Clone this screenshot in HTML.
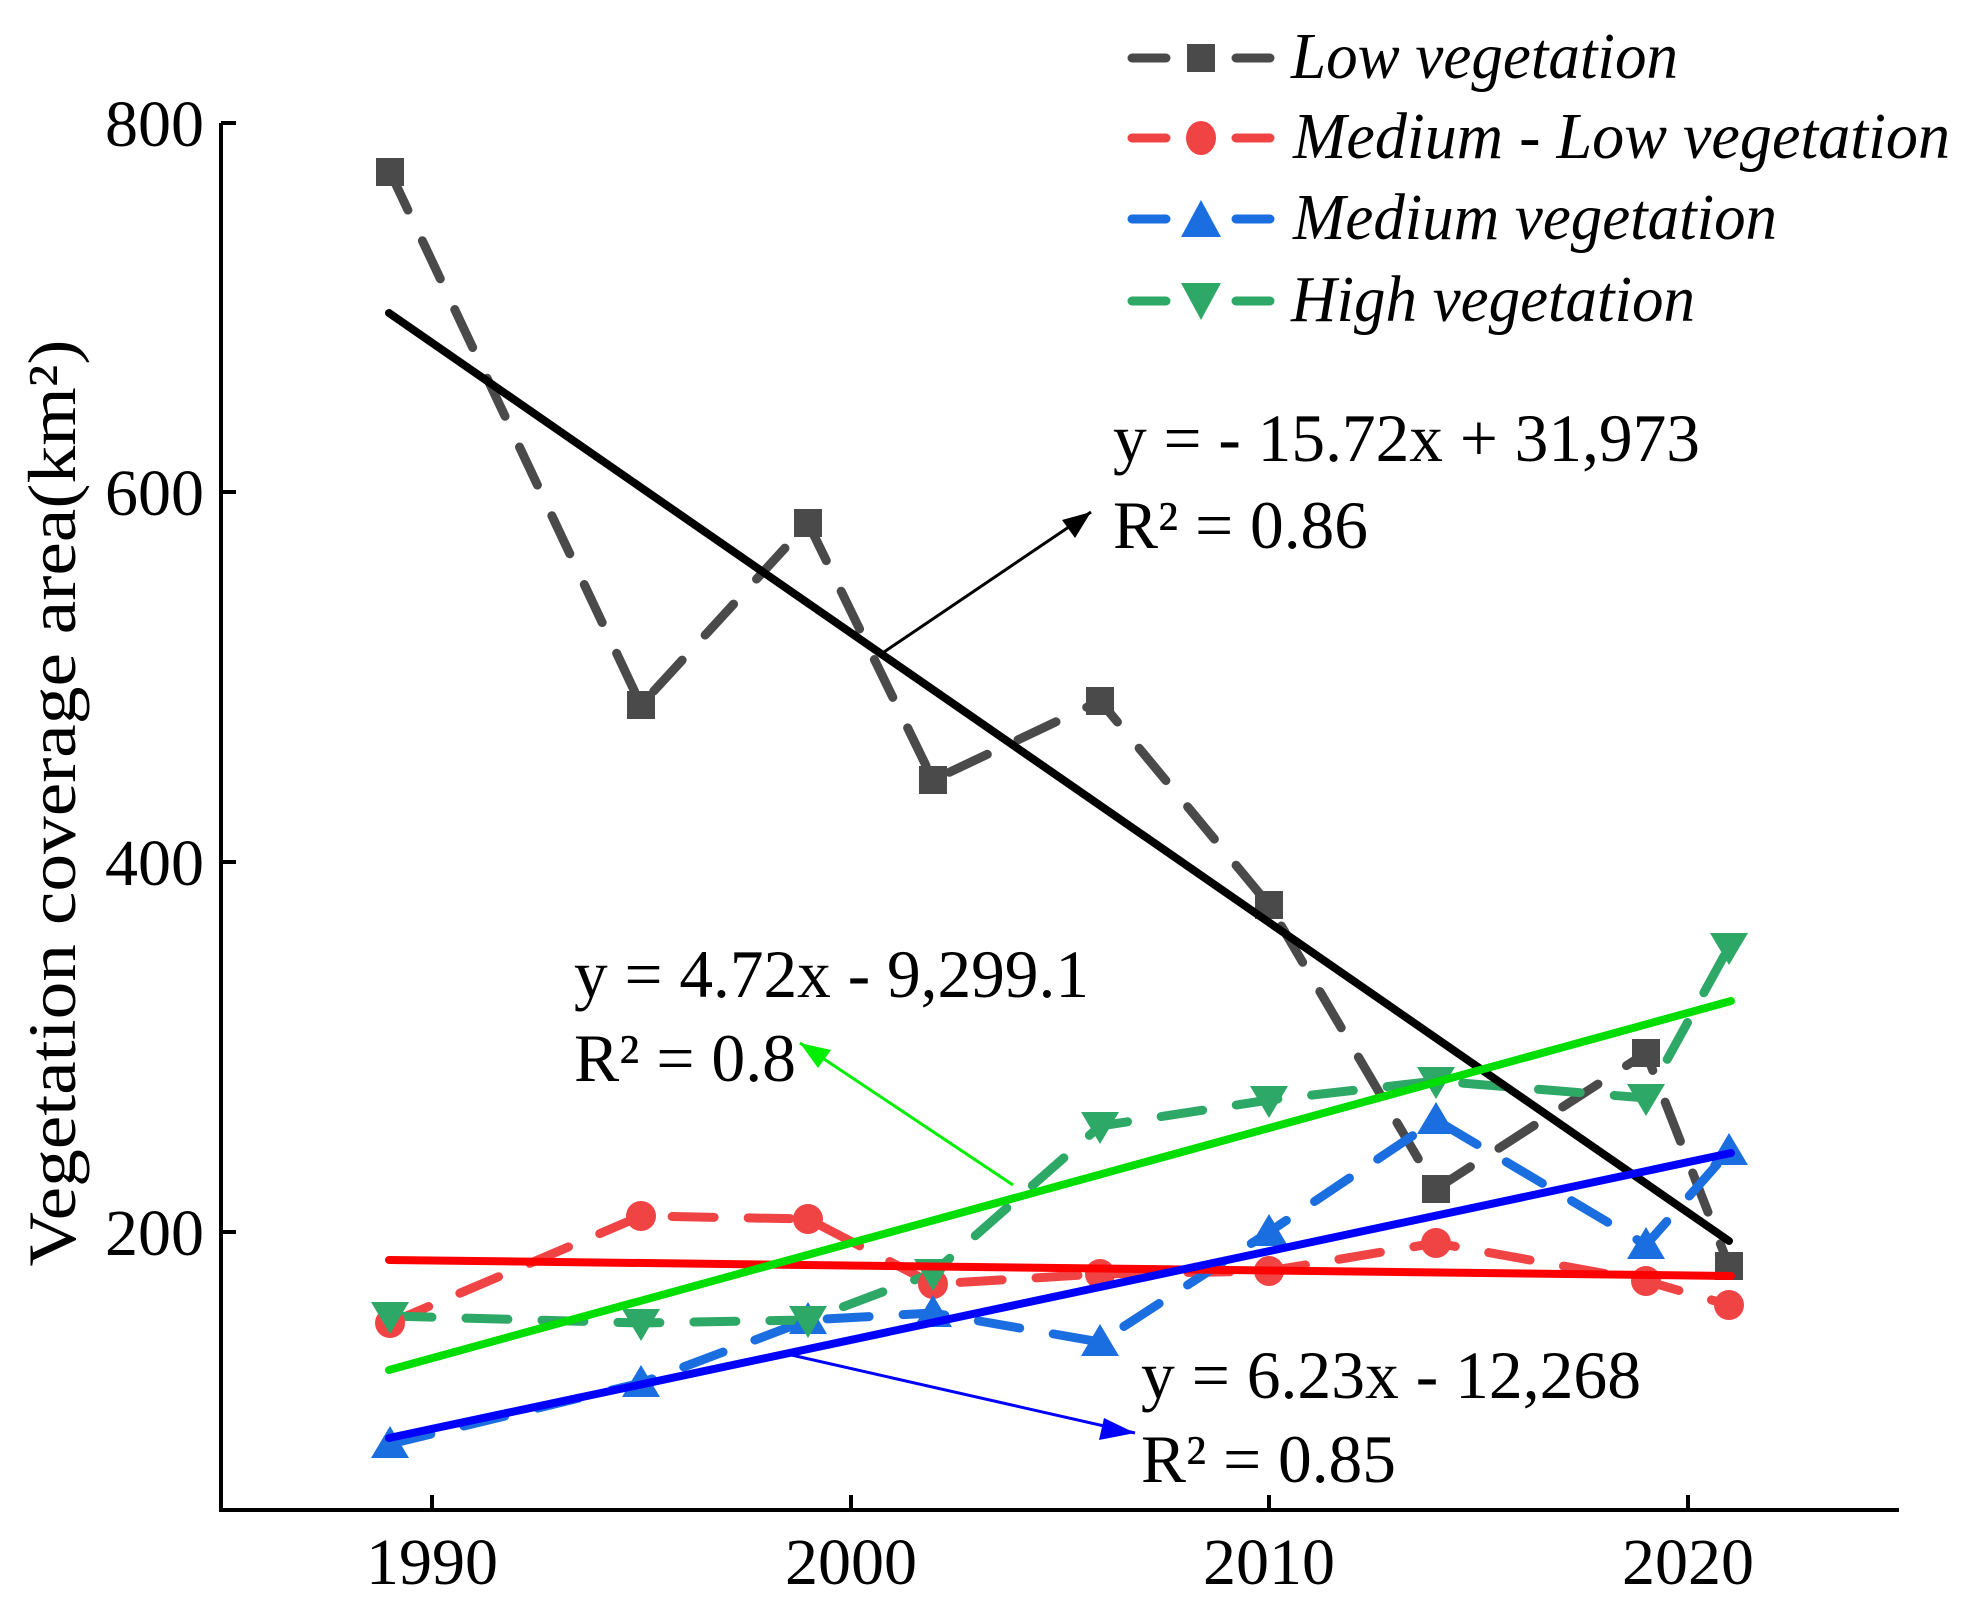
<!DOCTYPE html>
<html><head><meta charset="utf-8"><style>html,body{margin:0;padding:0;background:#fff}svg{display:block}svg text{font-family:"Liberation Serif","Times New Roman",serif}</style></head>
<body>
<svg width="1966" height="1612" viewBox="0 0 1966 1612" xmlns="http://www.w3.org/2000/svg">
<!-- axes -->
<g stroke="#000" stroke-width="4" fill="none">
<path d="M221,123 L221,1510 L1899,1510"/>
<path d="M221,123 L236,123 M221,492 L236,492 M221,862 L236,862 M221,1232 L236,1232"/>
<path d="M432,1510 L432,1495 M851,1510 L851,1495 M1269,1510 L1269,1495 M1688,1510 L1688,1495"/>
</g>
<g font-size="66" fill="#000" text-anchor="end">
<text x="204" y="146">800</text><text x="204" y="515">600</text><text x="204" y="885">400</text><text x="204" y="1255">200</text>
</g>
<g font-size="66" fill="#000" text-anchor="middle">
<text x="432" y="1584">1990</text><text x="851" y="1584">2000</text><text x="1269" y="1584">2010</text><text x="1688" y="1584">2020</text>
</g>
<text transform="translate(75,803) rotate(-90)" font-size="68" text-anchor="middle" textLength="927" lengthAdjust="spacingAndGlyphs">Vegetation coverage area(km²)</text>

<!-- dashed series -->
<g fill="none" stroke-width="9" stroke-linecap="round" stroke-dasharray="42 34">
<polyline stroke="#4a4a4a" points="390,172 641,705 808,523 933,780 1100,701 1269,905 1436,1189 1646,1053 1729,1266"/>
<polyline stroke="#f04444" points="390,1323 641,1216 808,1219 933,1284 1100,1274 1269,1271 1436,1243 1646,1281 1729,1305"/>
<polyline stroke="#1a6ee0" points="390,1444 641,1383 808,1320 933,1313 1100,1342 1269,1232 1436,1120 1646,1245 1729,1151"/>
<polyline stroke="#2ea866" points="390,1316 641,1323 808,1320 933,1273 1100,1126 1269,1100 1436,1081 1646,1098 1729,947"/>
</g>
<!-- markers -->
<g fill="#4a4a4a">
<rect x="376" y="158" width="28" height="28"/><rect x="627" y="691" width="28" height="28"/><rect x="794" y="509" width="28" height="28"/><rect x="919" y="766" width="28" height="28"/><rect x="1086" y="687" width="28" height="28"/><rect x="1255" y="891" width="28" height="28"/><rect x="1422" y="1175" width="28" height="28"/><rect x="1632" y="1039" width="28" height="28"/><rect x="1715" y="1252" width="28" height="28"/>
</g>
<g fill="#f04444">
<circle cx="390" cy="1323" r="15"/><circle cx="641" cy="1216" r="15"/><circle cx="808" cy="1219" r="15"/><circle cx="933" cy="1284" r="15"/><circle cx="1100" cy="1274" r="15"/><circle cx="1269" cy="1271" r="15"/><circle cx="1436" cy="1243" r="15"/><circle cx="1646" cy="1281" r="15"/><circle cx="1729" cy="1305" r="15"/>
</g>
<g fill="#1a6ee0">
<path d="M390,1426 l19,32 h-38z M641,1365 l19,32 h-38z M808,1302 l19,32 h-38z M933,1295 l19,32 h-38z M1100,1324 l19,32 h-38z M1269,1214 l19,32 h-38z M1436,1102 l19,32 h-38z M1646,1227 l19,32 h-38z M1729,1133 l19,32 h-38z"/>
</g>
<g fill="#2ea866">
<path d="M390,1334 l19,-32 h-38z M641,1341 l19,-32 h-38z M808,1338 l19,-32 h-38z M933,1291 l19,-32 h-38z M1100,1144 l19,-32 h-38z M1269,1118 l19,-32 h-38z M1436,1099 l19,-32 h-38z M1646,1116 l19,-32 h-38z M1729,965 l19,-32 h-38z"/>
</g>
<!-- trend lines -->
<g stroke-width="8" stroke-linecap="round">
<line x1="389" y1="313" x2="1729" y2="1241" stroke="#000"/>
<line x1="389" y1="1260" x2="1731" y2="1276" stroke="#ff0000"/>
<line x1="389" y1="1370" x2="1731" y2="1001" stroke="#00dd00"/>
<line x1="389" y1="1438" x2="1731" y2="1153" stroke="#0000ff"/>
</g>
<!-- annotation arrows -->
<line x1="884" y1="652" x2="1091" y2="512" stroke="#000" stroke-width="3"/>
<path d="M1091,512 L1062,520 L1075,538 z" fill="#000"/>
<line x1="1013" y1="1185" x2="800" y2="1043" stroke="#00ee00" stroke-width="3"/>
<path d="M800,1043 L818,1068 L831,1050 z" fill="#00ee00"/>
<line x1="787" y1="1354" x2="1135" y2="1433" stroke="#0000ff" stroke-width="3"/>
<path d="M1135,1433 L1104,1418 L1099,1440 z" fill="#0000ff"/>
<!-- equations -->
<g font-size="68" fill="#000">
<text x="1113" y="461" textLength="587" lengthAdjust="spacingAndGlyphs">y = - 15.72x + 31,973</text>
<text x="1113" y="548" textLength="255" lengthAdjust="spacingAndGlyphs">R² = 0.86</text>
<text x="574" y="997" textLength="515" lengthAdjust="spacingAndGlyphs">y = 4.72x - 9,299.1</text>
<text x="574" y="1081" textLength="222" lengthAdjust="spacingAndGlyphs">R² = 0.8</text>
<text x="1141" y="1398" textLength="500" lengthAdjust="spacingAndGlyphs">y = 6.23x - 12,268</text>
<text x="1141" y="1482" textLength="255" lengthAdjust="spacingAndGlyphs">R² = 0.85</text>
</g>
<!-- legend -->
<g stroke-width="9" stroke-linecap="round">
<path d="M1132,58 h34 M1236,58 h34" stroke="#4a4a4a"/>
<path d="M1132,138 h34 M1236,138 h34" stroke="#f04444"/>
<path d="M1132,219 h34 M1236,219 h34" stroke="#1a6ee0"/>
<path d="M1132,301 h34 M1236,301 h34" stroke="#2ea866"/>
</g>
<rect x="1187" y="44" width="28" height="28" fill="#4a4a4a"/>
<ellipse cx="1201" cy="138" rx="15" ry="17" fill="#f04444"/>
<path d="M1201,200 l20,37 h-40z" fill="#1a6ee0"/>
<path d="M1201,320 l20,-37 h-40z" fill="#2ea866"/>
<g font-size="66" font-style="italic" fill="#000">
<text x="1291" y="78" textLength="387" lengthAdjust="spacingAndGlyphs">Low vegetation</text>
<text x="1293" y="158" textLength="657" lengthAdjust="spacingAndGlyphs">Medium  - Low vegetation</text>
<text x="1293" y="239" textLength="484" lengthAdjust="spacingAndGlyphs">Medium vegetation</text>
<text x="1291" y="321" textLength="404" lengthAdjust="spacingAndGlyphs">High vegetation</text>
</g>
</svg>
</body></html>
